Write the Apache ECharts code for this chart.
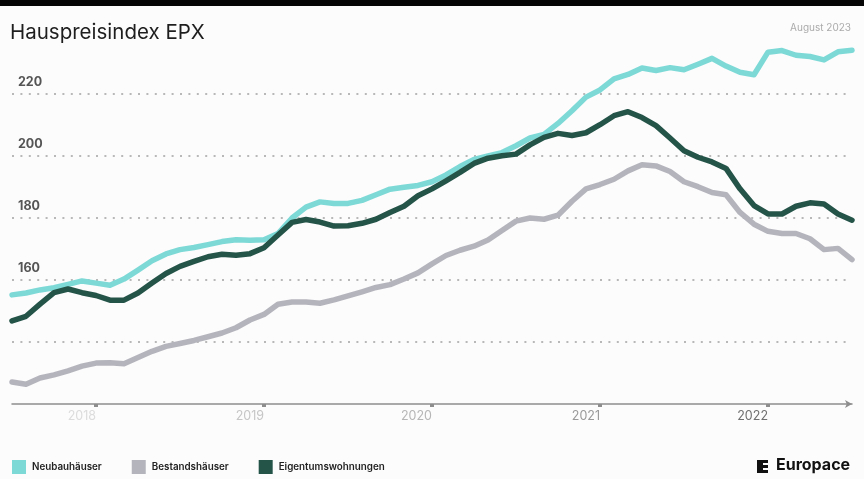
<!DOCTYPE html>
<html>
<head>
<meta charset="utf-8">
<script src="https://cdn.jsdelivr.net/npm/echarts@6/dist/echarts.min.js"></script>
<style>
html,body{margin:0;padding:0;background:#fcfcfd;}
#c{width:864px;height:479px;}
</style>
</head>
<body>
<div id="c"></div>
<script>
// Monthly categories Jul 2017 .. Jul 2022
var months = [];
(function(){ var y=2017,m=7; for(var i=0;i<61;i++){ months.push(y+'-'+(m<10?'0'+m:m)); m++; if(m>12){m=1;y++;} } })();

var neubau = [155.2,155.8,156.8,157.5,158.6,159.7,159.0,158.3,160.3,163.2,166.2,168.4,169.8,170.5,171.4,172.4,173.0,172.8,173.0,175.0,
  180.0,183.5,185.2,184.7,184.7,185.7,187.5,189.3,189.9,190.5,191.7,193.9,196.6,198.9,200.0,201.1,203.3,205.8,207.0,210.5,
  214.6,219.0,221.3,224.9,226.3,228.4,227.6,228.5,227.8,229.6,231.5,229.0,227.0,226.2,233.5,234.0,232.5,232.1,231.0,233.6,234.1];
var bestand = [127.1,126.4,128.4,129.4,130.7,132.2,133.2,133.3,133.0,135.0,137.0,138.6,139.5,140.5,141.7,142.9,144.6,147.1,148.9,152.2,
  152.9,152.9,152.5,153.6,154.9,156.2,157.6,158.5,160.3,162.3,165.2,167.9,169.6,170.9,172.9,176.0,179.0,180.0,179.6,180.9,
  185.4,189.4,190.8,192.5,195.2,197.2,196.8,195.0,191.7,190.1,188.2,187.5,181.8,178.0,175.7,175.0,175.0,173.3,169.8,170.2,166.6];
var etw = [146.8,148.3,152.2,155.9,157.1,155.9,155.0,153.5,153.5,155.8,159.0,162.1,164.4,166.0,167.5,168.3,168.0,168.5,170.4,174.5,
  178.6,179.5,178.7,177.4,177.5,178.3,179.6,181.8,183.8,187.2,189.4,192.0,194.7,197.6,199.3,200.1,200.6,203.6,206.0,207.3,
  206.6,207.5,210.1,213.0,214.3,212.4,209.8,205.8,201.7,199.6,198.1,196.0,189.4,184.0,181.3,181.3,183.8,184.9,184.5,181.3,179.3];

var seriesNames = ['Neubauhäuser','Bestandshäuser','Eigentumswohnungen'];
var colors = ['#7dd9d6','#b4b4bc','#245347'];
var yLabels = [160,180,200,220];
var yearColors = {'2018':'#dcdcdc','2019':'#c6c6c6','2020':'#b6b6b6','2021':'#9a9a9a','2022':'#707070'};

var chart = echarts.init(document.getElementById('c'));
function isJan(i, v){ return String(v).slice(5) === '01'; }
chart.setOption({
  backgroundColor:'#fcfcfd',
  animation:false,
  title:[{text:'Hauspreisindex EPX',left:10,top:22,padding:0,textStyle:{fontFamily:'Inter',fontSize:20.5,fontWeight:400,color:'#1e1e1e'}},
         {text:'August 2023',right:13,top:23,padding:0,textStyle:{fontFamily:'Inter',fontSize:10,fontWeight:400,color:'#ababab'}}],
  legend:{left:12,top:460,padding:0,itemWidth:14,itemHeight:14,itemGap:30,icon:'rect',
    textStyle:{fontFamily:'Inter',fontSize:9.8,fontWeight:600,color:'#222',padding:[0,0,0,1]},
    data:seriesNames},
  grid:{left:12,right:12,top:32,bottom:75},
  xAxis:{type:'category',data:months,boundaryGap:false,
    axisLine:{show:true,symbol:['none','arrow'],symbolSize:[6,7],lineStyle:{color:'#8d8d8d',width:1.5}},
    axisTick:{show:true,interval:isJan,length:3,lineStyle:{color:'#8d8d8d',width:4}},
    axisLabel:{interval:isJan,align:'right',margin:6,fontFamily:'Inter',fontSize:12.5,
      formatter:function(v){return v.slice(0,4);},
      color:function(v){return yearColors[String(v).slice(0,4)]||'#999';}},
    splitLine:{show:false}},
  yAxis:{type:'value',min:120,max:240,interval:20,
    axisLine:{show:false},axisTick:{show:false},
    axisLabel:{inside:true,margin:6,verticalAlign:'bottom',padding:[0,0,5,0],
      fontFamily:'Inter',fontSize:12.5,fontWeight:700,color:'#555',
      formatter:function(v){return yLabels.indexOf(v)>=0?String(v):'';}},
    splitLine:{show:true,showMinLine:false,showMaxLine:false,lineStyle:{color:'#b8b8b8',width:2,type:[2,6.4]}}},
  series:[
    {name:seriesNames[0],type:'line',data:neubau,symbol:'none',lineStyle:{width:5.5,color:colors[0],join:'round',cap:'round'},itemStyle:{color:colors[0]},z:3},
    {name:seriesNames[1],type:'line',data:bestand,symbol:'none',lineStyle:{width:5.5,color:colors[1],join:'round',cap:'round'},itemStyle:{color:colors[1]},z:2},
    {name:seriesNames[2],type:'line',data:etw,symbol:'none',lineStyle:{width:5.5,color:colors[2],join:'round',cap:'round'},itemStyle:{color:colors[2]},z:4}
  ],
  graphic:[
    {type:'rect',left:0,top:0,shape:{width:864,height:6},style:{fill:'#050505'},z:100},
    {type:'group',left:757,top:460,children:[
      {type:'rect',shape:{x:0,y:0,width:11,height:13},style:{fill:'#111'}},
      {type:'rect',shape:{x:6,y:3,width:5,height:2},style:{fill:'#fcfcfd'}},
      {type:'rect',shape:{x:6,y:8,width:5,height:2},style:{fill:'#fcfcfd'}}
    ]},
    {type:'text',left:776,top:457,style:{text:'Europace',fontFamily:'Inter',fontSize:16,fontWeight:700,fill:'#111'}}
  ]
});
</script>
</body>
</html>
